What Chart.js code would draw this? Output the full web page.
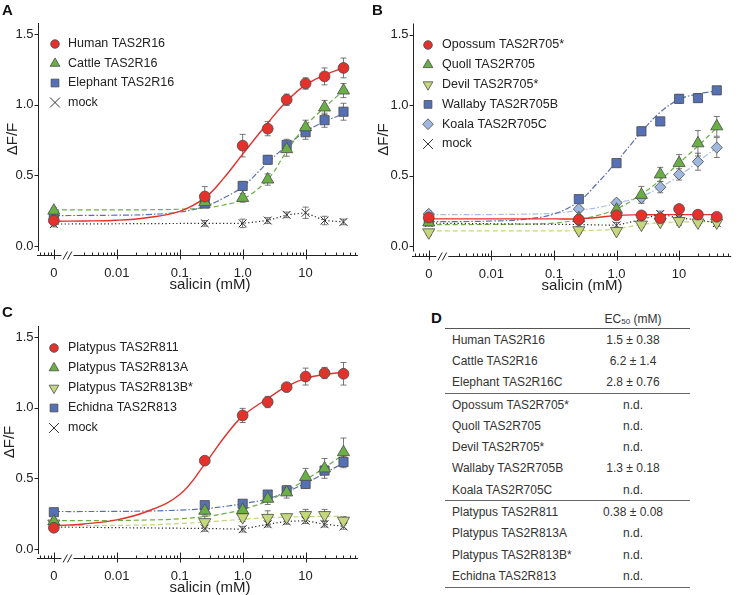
<!DOCTYPE html>
<html>
<head>
<meta charset="utf-8">
<script src="https://cdn.jsdelivr.net/npm/chart.js@4/dist/chart.umd.min.js"></script>
<style>
  body { margin: 0; background: #fff; width: 739px; height: 595px; position: relative; overflow: hidden;
         font-family: "Liberation Sans", Arial, sans-serif; }
  canvas { position: absolute; }
  #letterD { position: absolute; left: 431px; top: 309px; font-size: 15px; font-weight: bold; color: #111; }
  #ec50 { position: absolute; left: 445px; top: 310px; width: 245px; border-collapse: collapse;
          font-size: 12px; color: #333; }
  #ec50 td, #ec50 th { padding: 0; white-space: nowrap; }
  #ec50 th { height: 18px; font-weight: normal; border-bottom: 1px solid #555; }
  #ec50 td { height: 21.3px; }
  #ec50 td.name { padding-left: 7px; width: 124px; }
  #ec50 td.val { text-align: center; }
  #ec50 tr.groupEnd td { border-bottom: 1px solid #666; }
  #ec50 sub { font-size: 8px; vertical-align: -1px; }
</style>
</head>
<body>
<canvas id="chartA" width="370" height="300" style="left:0;top:0"></canvas>
<canvas id="chartB" width="369" height="300" style="left:370px;top:0"></canvas>
<canvas id="chartC" width="370" height="295" style="left:0;top:300px"></canvas>
<div id="letterD">D</div>
<table id="ec50"></table>

<script>
// salicin concentrations (mM); 0 is drawn at ZERO_AT on the broken log axis
const conc = [0, 0.25, 1, 2.5, 5, 10, 20, 40];
const fitConc = [0, 0.003, 0.01, 0.03, 0.1, 0.25, 0.5, 1, 2.5, 5, 10, 20, 40];
const ZERO_AT = 0.001;

const xTickValues = [0, 0.01, 0.1, 1, 10];
const xTickLabels = ['0', '0.01', '0.1', '1.0', '10'];
const yTickValues = [0, 0.5, 1, 1.5];
const yTickLabels = ['0.0', '0.5', '1.0', '1.5'];

// Panel A
const humanY    = [0.18, 0.35, 0.71, 0.83, 1.035, 1.15, 1.20, 1.26];
const humanErr  = [0.02, 0.07, 0.08, 0.05, 0.04, 0.04, 0.06, 0.07];
const humanFit  = [0.175, 0.177, 0.182, 0.20, 0.245, 0.34, 0.48, 0.65, 0.87, 1.025, 1.14, 1.21, 1.26];
const cattleY   = [0.25, 0.31, 0.34, 0.47, 0.685, 0.84, 0.98, 1.10];
const cattleErr = [0.02, 0.02, 0.03, 0.04, 0.05, 0.05, 0.05, 0.05];
const cattleFit = [0.255, 0.255, 0.255, 0.256, 0.26, 0.27, 0.29, 0.33, 0.47, 0.67, 0.85, 0.98, 1.10];
const elephY    = [0.21, 0.30, 0.425, 0.61, 0.715, 0.805, 0.89, 0.95];
const elephErr  = [0.02, 0.02, 0.03, 0.03, 0.04, 0.05, 0.05, 0.06];
const elephFit  = [0.215, 0.216, 0.218, 0.222, 0.24, 0.28, 0.34, 0.42, 0.59, 0.71, 0.81, 0.88, 0.935];
const mockAY    = [0.155, 0.16, 0.16, 0.18, 0.22, 0.235, 0.18, 0.17];
const mockAErr  = [0.02, 0.02, 0.03, 0.02, 0.02, 0.04, 0.03, 0.02];

// Panel B
const opossumY   = [0.205, 0.19, 0.22, 0.22, 0.20, 0.265, 0.225, 0.21];
const opossumErr = [0.02, 0.02, 0.03, 0.02, 0.02, 0.02, 0.02, 0.02];
const opossumFit = [0.195, 0.195, 0.195, 0.195, 0.195, 0.196, 0.205, 0.22, 0.224, 0.225, 0.225, 0.225, 0.225];
const quollY     = [0.17, 0.20, 0.26, 0.365, 0.51, 0.59, 0.73, 0.85];
const quollErr   = [0.02, 0.02, 0.03, 0.06, 0.05, 0.06, 0.09, 0.07];
const quollFit   = [0.155, 0.155, 0.156, 0.158, 0.165, 0.19, 0.22, 0.265, 0.37, 0.47, 0.59, 0.71, 0.84];
const devilY     = [0.10, 0.115, 0.11, 0.155, 0.175, 0.18, 0.17, 0.17];
const devilErr   = [0.02, 0.02, 0.02, 0.02, 0.02, 0.03, 0.02, 0.02];
const devilFit   = [0.11, 0.11, 0.11, 0.11, 0.11, 0.112, 0.115, 0.125, 0.155, 0.168, 0.173, 0.175, 0.175];
const wallabyY   = [0.18, 0.335, 0.59, 0.815, 0.885, 1.045, 1.05, 1.105];
const wallabyErr = [0.02, 0.02, 0.02, 0.03, 0.02, 0.03, 0.03, 0.02];
const wallabyFit = [0.175, 0.176, 0.18, 0.19, 0.23, 0.32, 0.45, 0.60, 0.81, 0.95, 1.04, 1.08, 1.10];
const koalaY     = [0.23, 0.265, 0.31, 0.345, 0.42, 0.51, 0.60, 0.70];
const koalaErr   = [0.02, 0.02, 0.02, 0.03, 0.04, 0.04, 0.06, 0.07];
const koalaFit   = [0.225, 0.225, 0.226, 0.228, 0.235, 0.255, 0.275, 0.305, 0.355, 0.42, 0.50, 0.60, 0.70];
const mockBY     = [0.165, 0.155, 0.15, 0.19, 0.23, 0.20, 0.19, 0.165];
const mockBErr   = [0.02, 0.02, 0.02, 0.02, 0.02, 0.02, 0.02, 0.02];

// Panel C
const p811Y      = [0.15, 0.625, 0.945, 1.04, 1.145, 1.22, 1.245, 1.24];
const p811Err    = [0.02, 0.02, 0.05, 0.04, 0.02, 0.06, 0.04, 0.08];
const p811Fit    = [0.165, 0.177, 0.206, 0.265, 0.385, 0.60, 0.785, 0.94, 1.065, 1.15, 1.207, 1.235, 1.25];
const p813aY     = [0.195, 0.27, 0.275, 0.355, 0.40, 0.51, 0.57, 0.685];
const p813aErr   = [0.02, 0.03, 0.04, 0.04, 0.04, 0.06, 0.07, 0.10];
const p813aFit   = [0.20, 0.20, 0.202, 0.205, 0.213, 0.23, 0.25, 0.28, 0.34, 0.41, 0.49, 0.575, 0.67];
const p813bY     = [0.18, 0.19, 0.225, 0.22, 0.225, 0.24, 0.24, 0.20];
const p813bErr   = [0.02, 0.04, 0.03, 0.05, 0.02, 0.04, 0.04, 0.03];
const p813bFit   = [0.165, 0.165, 0.167, 0.17, 0.18, 0.19, 0.20, 0.21, 0.222, 0.226, 0.229, 0.23, 0.23];
const echidnaY   = [0.26, 0.31, 0.32, 0.385, 0.415, 0.46, 0.555, 0.615];
const echidnaErr = [0.02, 0.02, 0.02, 0.02, 0.03, 0.03, 0.03, 0.04];
const echidnaFit = [0.265, 0.265, 0.266, 0.268, 0.275, 0.285, 0.30, 0.32, 0.355, 0.405, 0.465, 0.535, 0.61];
const mockCY     = [0.155, 0.145, 0.14, 0.175, 0.195, 0.20, 0.175, 0.16];
const mockCErr   = [0.02, 0.02, 0.02, 0.02, 0.02, 0.02, 0.02, 0.02];

// Panel D
const receptors = ['Human TAS2R16', 'Cattle TAS2R16', 'Elephant TAS2R16C', 'Opossum TAS2R705*',
  'Quoll TAS2R705', 'Devil TAS2R705*', 'Wallaby TAS2R705B', 'Koala TAS2R705C',
  'Platypus TAS2R811', 'Platypus TAS2R813A', 'Platypus TAS2R813B*', 'Echidna TAS2R813'];
const ec50Values = ['1.5 ± 0.38', '6.2 ± 1.4', '2.8 ± 0.76', 'n.d.', 'n.d.', 'n.d.',
  '1.3 ± 0.18', 'n.d.', '0.38 ± 0.08', 'n.d.', 'n.d.', 'n.d.'];
const groupLastRows = [2, 7, 11];

const FONT = '"Liberation Sans", Arial, sans-serif';
const X_MIN = 0.00056, X_MAX = 68;
const Y_MIN = -0.064, Y_MAX = 1.578;

const styles = {
  red:        { fill: '#e3312c', line: '#e3312c', point: 'circle',   r: 5.4, lr: 4.3, dash: [],           lineW: 1.4 },
  green:      { fill: '#6aaf45', line: '#6aaf45', point: 'triangle', r: 7,   lr: 5.6, dash: [5, 3],        lineW: 1.2 },
  lightgreen: { fill: '#c6d87e', line: '#c2d67a', point: 'triangle', r: 7,   lr: 5.6, dash: [5, 3],        lineW: 1.2, rot: 180 },
  blue:       { fill: '#5570b4', line: '#5a6fb0', point: 'rect',     r: 6.5, lr: 5.5, dash: [6, 2, 1.5, 2], lineW: 1.2 },
  lightblue:  { fill: '#a0b8e0', line: '#a6bde3', point: 'rectRot',  r: 5.6, lr: 5.4, dash: [6, 2, 1.5, 2], lineW: 1.2 },
  mock:       { fill: null,      line: '#222',    point: 'crossRot', r: 5.6, lr: 7,   dash: [1.2, 2.4],    lineW: 1.2 }
};

const panels = [
  {
    id: 'chartA', letter: 'A', pad: { left: 38, right: 12, top: 23, bottom: 45 },
    yTitleX: 13, xTitleX: 210, legend: { x: 55, textX: 68, y: 44, step: 19.5 },
    series: [
      { label: 'Human TAS2R16',    kind: 'red',   y: humanY,  err: humanErr,  fit: humanFit },
      { label: 'Cattle TAS2R16',   kind: 'green', y: cattleY, err: cattleErr, fit: cattleFit },
      { label: 'Elephant TAS2R16', kind: 'blue',  y: elephY,  err: elephErr,  fit: elephFit },
      { label: 'mock',             kind: 'mock',  y: mockAY,  err: mockAErr,  fit: null }
    ]
  },
  {
    id: 'chartB', letter: 'B', pad: { left: 43, right: 6, top: 23.5, bottom: 44.5 },
    yTitleX: 14, xTitleX: 212, legend: { x: 58, textX: 72, y: 45, step: 19.8 },
    series: [
      { label: 'Opossum TAS2R705*', kind: 'red',        y: opossumY, err: opossumErr, fit: opossumFit },
      { label: 'Quoll TAS2R705',    kind: 'green',      y: quollY,   err: quollErr,   fit: quollFit },
      { label: 'Devil TAS2R705*',   kind: 'lightgreen', y: devilY,   err: devilErr,   fit: devilFit },
      { label: 'Wallaby TAS2R705B', kind: 'blue',       y: wallabyY, err: wallabyErr, fit: wallabyFit },
      { label: 'Koala TAS2R705C',   kind: 'lightblue',  y: koalaY,   err: koalaErr,   fit: koalaFit },
      { label: 'mock',              kind: 'mock',       y: mockBY,   err: mockBErr,   fit: null }
    ]
  },
  {
    id: 'chartC', letter: 'C', pad: { left: 38, right: 12, top: 26, bottom: 37 },
    yTitleX: 10, xTitleX: 210, legend: { x: 54, textX: 68, y: 48, step: 20 },
    series: [
      { label: 'Platypus TAS2R811',   kind: 'red',        y: p811Y,    err: p811Err,    fit: p811Fit },
      { label: 'Platypus TAS2R813A',  kind: 'green',      y: p813aY,   err: p813aErr,   fit: p813aFit },
      { label: 'Platypus TAS2R813B*', kind: 'lightgreen', y: p813bY,   err: p813bErr,   fit: p813bFit },
      { label: 'Echidna TAS2R813',    kind: 'blue',       y: echidnaY, err: echidnaErr, fit: echidnaFit },
      { label: 'mock',                kind: 'mock',       y: mockCY,   err: mockCErr,   fit: null }
    ]
  }
];

function xv(c) {
    return c === 0 ? ZERO_AT : c;
}

function buildDatasets(panel) {
    const datasets = [];
    panel.series.forEach((s, k) => {
        const st = styles[s.kind];
        const isMock = s.kind === 'mock';
        datasets.push({
            label: s.label,
            data: conc.map((c, i) => ({ x: xv(c), y: s.y[i] })),
            pointStyle: st.point,
            pointRotation: st.rot || 0,
            pointRadius: st.r,
            pointBackgroundColor: st.fill || 'rgba(0,0,0,0)',
            pointBorderColor: isMock ? '#333' : '#4a4a4a',
            pointBorderWidth: isMock ? 1 : 0.8,
            showLine: isMock,
            borderColor: st.line,
            borderWidth: st.lineW,
            borderDash: st.dash,
            order: isMock ? 9 : k + 1
        });
        if (s.fit) {
            datasets.push({
                label: s.label + ' fit',
                data: fitConc.map((c, i) => ({ x: xv(c), y: s.fit[i] })),
                showLine: true,
                pointRadius: 0,
                borderColor: st.line,
                borderWidth: st.lineW,
                borderDash: st.dash,
                tension: 0.4,
                order: 20 + k
            });
        }
    });
    return datasets;
}

// minor ticks: 2..9 of every decade, skipping the axis break
function minorTicks() {
    const ticks = [];
    for (let e = -4; e <= 1; e++) {
        for (let m = 2; m <= 9; m++) {
            const v = m * Math.pow(10, e);
            if (v < X_MIN || v > X_MAX) continue;
            if (v > 0.0012 && v < 0.0025) continue;
            ticks.push(v);
        }
    }
    return ticks;
}

function decor(panel) {
    return {
        id: 'decor' + panel.letter,
        beforeDatasetsDraw(chart) {
            const ctx = chart.ctx;
            const xs = chart.scales.x, ys = chart.scales.y;
            ctx.save();
            ctx.strokeStyle = '#555';
            ctx.lineWidth = 0.8;
            panel.series.forEach(s => {
                conc.forEach((c, i) => {
                    const px = xs.getPixelForValue(xv(c));
                    const top = ys.getPixelForValue(s.y[i] + s.err[i]);
                    const bot = ys.getPixelForValue(s.y[i] - s.err[i]);
                    ctx.beginPath();
                    ctx.moveTo(px, top); ctx.lineTo(px, bot);
                    ctx.moveTo(px - 3, top); ctx.lineTo(px + 3, top);
                    ctx.moveTo(px - 3, bot); ctx.lineTo(px + 3, bot);
                    ctx.stroke();
                });
            });
            ctx.restore();
        },
        afterDraw(chart) {
            const ctx = chart.ctx;
            const xs = chart.scales.x, ys = chart.scales.y;
            const area = chart.chartArea;
            const by = Math.round(area.bottom) + 0.5;
            const lx = Math.round(area.left) + 0.5;
            ctx.save();
            ctx.strokeStyle = '#222';
            ctx.fillStyle = '#222';
            ctx.lineWidth = 1;

            // y axis
            ctx.beginPath();
            ctx.moveTo(lx, area.top);
            ctx.lineTo(lx, area.bottom - 4);
            yTickValues.forEach(v => {
                const py = Math.round(ys.getPixelForValue(v)) + 0.5;
                ctx.moveTo(lx - 4, py); ctx.lineTo(lx, py);
            });
            ctx.stroke();
            ctx.font = '13px ' + FONT;
            ctx.textAlign = 'right';
            ctx.textBaseline = 'middle';
            yTickValues.forEach((v, i) => {
                ctx.fillText(yTickLabels[i], lx - 5, ys.getPixelForValue(v));
            });

            // x axis with break
            const gapL = xs.getPixelForValue(0.00132), gapR = xs.getPixelForValue(0.00205);
            ctx.beginPath();
            ctx.moveTo(area.left - 1, by); ctx.lineTo(gapL, by);
            ctx.moveTo(gapR, by); ctx.lineTo(area.right, by);
            const bx = (gapL + gapR) / 2;
            [-2.2, 2.2].forEach(o => {
                ctx.moveTo(bx + o - 2.2, by + 4); ctx.lineTo(bx + o + 2.2, by - 4);
            });
            minorTicks().forEach(v => {
                const px = Math.round(xs.getPixelForValue(v)) + 0.5;
                ctx.moveTo(px, by - 3); ctx.lineTo(px, by);
            });
            xTickValues.forEach(v => {
                const px = Math.round(xs.getPixelForValue(xv(v))) + 0.5;
                ctx.moveTo(px, by - 6); ctx.lineTo(px, by + 4);
            });
            ctx.stroke();
            ctx.textAlign = 'center';
            ctx.textBaseline = 'alphabetic';
            xTickValues.forEach((v, i) => {
                ctx.fillText(xTickLabels[i], xs.getPixelForValue(xv(v)), by + 21);
            });

            // axis titles
            ctx.font = '15px ' + FONT;
            ctx.fillText('salicin (mM)', panel.xTitleX, by + 33);
            ctx.save();
            ctx.translate(panel.yTitleX, (area.top + area.bottom) / 2);
            ctx.rotate(-Math.PI / 2);
            ctx.textBaseline = 'middle';
            ctx.fillText('ΔF/F', 0, 0);
            ctx.restore();

            // panel letter
            ctx.font = 'bold 15px ' + FONT;
            ctx.textAlign = 'left';
            ctx.fillStyle = '#111';
            ctx.fillText(panel.letter, 2, panel.letter === 'C' ? 17 : 15);

            // legend
            const lg = panel.legend;
            panel.series.forEach((s, k) => {
                const st = styles[s.kind];
                const y = lg.y + k * lg.step;
                ctx.fillStyle = st.fill || 'rgba(0,0,0,0)';
                ctx.strokeStyle = s.kind === 'mock' ? '#333' : '#4a4a4a';
                ctx.lineWidth = s.kind === 'mock' ? 1 : 0.8;
                Chart.helpers.drawPoint(ctx, {
                    pointStyle: st.point, radius: st.lr, rotation: st.rot || 0,
                    borderWidth: ctx.lineWidth
                }, lg.x, y);
                ctx.fillStyle = '#222';
                ctx.font = '12.5px ' + FONT;
                ctx.textBaseline = 'middle';
                ctx.fillText(s.label, lg.textX, y);
            });
            ctx.restore();
        }
    };
}

panels.forEach(panel => {
    new Chart(document.getElementById(panel.id), {
        type: 'scatter',
        data: { datasets: buildDatasets(panel) },
        options: {
            responsive: false,
            animation: false,
            events: [],
            layout: { padding: panel.pad },
            plugins: { legend: { display: false }, tooltip: { enabled: false } },
            scales: {
                x: { type: 'logarithmic', min: X_MIN, max: X_MAX, display: false },
                y: { type: 'linear', min: Y_MIN, max: Y_MAX, display: false }
            }
        },
        plugins: [decor(panel)]
    });
});

// EC50 table
function buildTable() {
    const table = document.getElementById('ec50');
    let html = '<tr><th></th><th>EC<sub>50</sub> (mM)</th></tr>';
    receptors.forEach((name, i) => {
        const cls = groupLastRows.includes(i) ? ' class="groupEnd"' : '';
        html += `<tr${cls}><td class="name">${name}</td><td class="val">${ec50Values[i]}</td></tr>`;
    });
    table.innerHTML = html;
}

buildTable();
</script>
</body>
</html>
